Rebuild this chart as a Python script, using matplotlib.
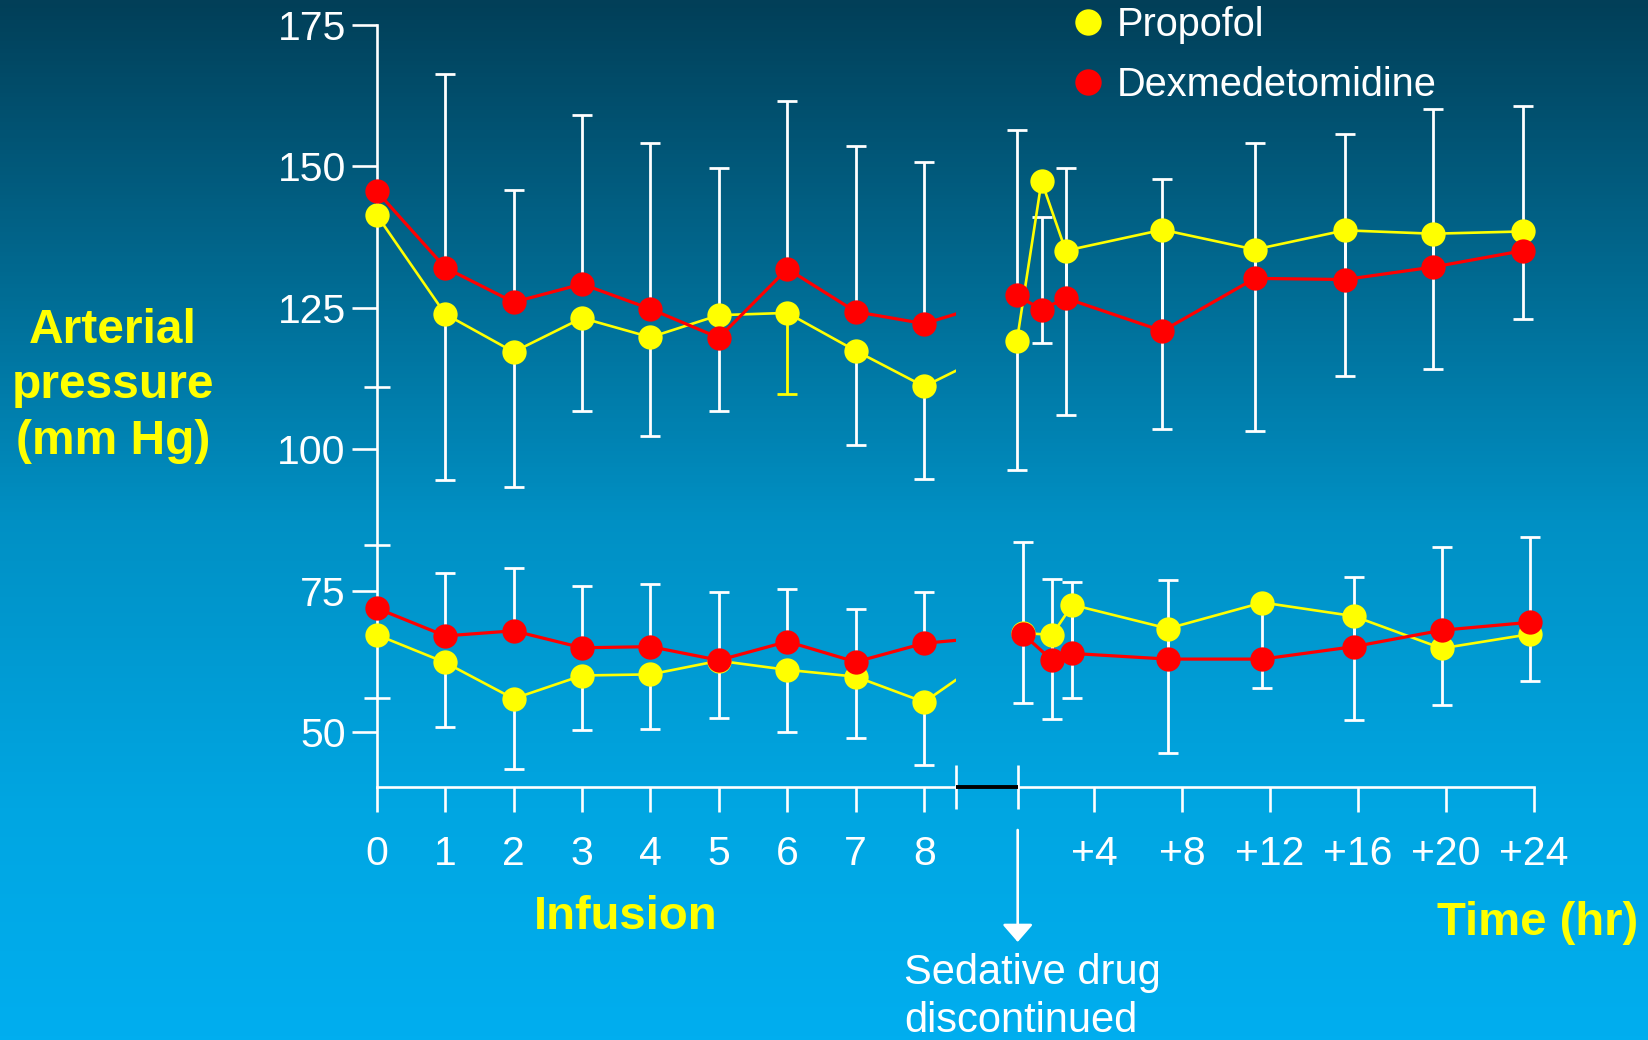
import matplotlib.pyplot as plt
import numpy as np
from matplotlib.colors import LinearSegmentedColormap
from matplotlib.lines import Line2D

plt.rcParams['font.family'] = ['Liberation Sans', 'DejaVu Sans']

YELLOW = '#ffff00'
RED = '#ff0000'
WHITE = '#ffffff'

# infusion period, hours 0-8
infusion_hours = [0, 1, 2, 3, 4, 5, 6, 7, 8]
infusion_labels = ['0', '1', '2', '3', '4', '5', '6', '7', '8']

# after the sedative was stopped (positions read against the +hr axis)
post_ticks = [4, 8, 12, 16, 20, 24]
post_labels = ['+4', '+8', '+12', '+16', '+20', '+24']
post_hours_sys = [0.48, 1.6, 2.7, 7.1, 11.3, 15.4, 19.4, 23.5]
post_hours_dia = [0.76, 2.08, 3.0, 7.35, 11.65, 15.8, 19.8, 23.8]

# systolic (upper group), mm Hg
prop_sys_inf = [141.4, 123.9, 117.2, 123.2, 119.8, 123.7, 124.1, 117.4, 111.1]
prop_sys_inf_sd = [0, 29.4, 23.9, 16.4, 17.4, 17.0, 14.3, 16.7, 16.3]
dex_sys_inf = [145.6, 132.1, 126.0, 129.2, 124.8, 119.7, 131.9, 124.3, 122.2]
dex_sys_inf_sd = [0, 34.3, 19.9, 29.8, 29.3, 30.0, 29.6, 29.3, 28.5]

prop_sys_post = [119.2, 147.4, 135.1, 138.8, 135.3, 138.7, 138.1, 138.5]
prop_sys_post_sd = [22.9, 0, 29.0, 35.2, 32.0, 25.7, 23.9, 15.4]
dex_sys_post = [127.2, 124.7, 126.7, 120.9, 130.2, 130.0, 132.2, 135.1]
dex_sys_post_sd = [29.2, 16.3, 23.0, 26.8, 24.0, 25.7, 28.0, 25.6]
dex_sys_post_sd_low = [0, 5.9, 0, 0, 0, 0, 0, 0]

# diastolic (lower group), mm Hg
prop_dia_inf = [67.2, 62.3, 55.9, 60.0, 60.2, 62.6, 61.0, 59.8, 55.3]
prop_dia_inf_sd = [0, 11.4, 12.4, 9.6, 9.7, 10.2, 10.9, 10.9, 11.1]
dex_dia_inf = [71.9, 67.0, 67.9, 64.9, 65.1, 62.7, 66.0, 62.4, 65.7]
dex_dia_inf_sd = [0, 11.2, 11.1, 10.9, 11.0, 12.0, 9.3, 9.3, 9.1]

prop_dia_post = [67.5, 67.2, 72.5, 68.3, 72.9, 70.5, 64.8, 67.3]
prop_dia_post_sd = [12.3, 14.9, 16.4, 22.0, 15.1, 18.4, 10.0, 8.3]
dex_dia_post = [67.3, 62.7, 63.9, 62.9, 62.9, 65.1, 68.0, 69.4]
dex_dia_post_sd = [16.3, 14.4, 12.7, 14.0, 0, 12.3, 14.8, 15.0]

y_ticks = [50, 75, 100, 125, 150, 175]
y_minor = [56, 83, 111]

no_err_9 = [0] * 9
no_err_8 = [0] * 8
prop_sys_bar_colours = [WHITE] * 6 + [YELLOW] + [WHITE] * 2

LW_PROP = 1.9
LW_DEX = 2.3


def draw_series(ax, hours, values, err_lo, err_hi, colour, lw, z, bar_colours=None):
    for i, (x, y, lo, hi) in enumerate(zip(hours, values, err_lo, err_hi)):
        if lo == 0 and hi == 0:
            continue
        c = bar_colours[i] if bar_colours else WHITE
        ax.errorbar(x, y, yerr=[[lo], [hi]], fmt='none', ecolor=c, elinewidth=2.0,
                    capsize=7, capthick=2.0, zorder=2, clip_on=False)
    ax.plot(hours, values, color=colour, lw=lw, marker='o', ms=17.5, mew=0,
            zorder=z, clip_on=False)


fig = plt.figure(figsize=(16.49, 10.40), dpi=100)

# slide background
bg = fig.add_axes([0, 0, 1, 1], zorder=-10)
slide = LinearSegmentedColormap.from_list(
    'slide', [(0, '#023f58'), (0.5, '#0090c4'), (0.78, '#00a6e2'), (1, '#00aeef')])
bg.imshow(np.linspace(0, 1, 256).reshape(-1, 1), cmap=slide, aspect='auto',
          extent=(0, 1, 0, 1))
bg.set_axis_off()

ax_l = fig.add_axes([0.21395, 0.2436, 0.3660, 0.7487])
ax_r = fig.add_axes([0.61716, 0.2436, 0.3211, 0.7487])

for ax in (ax_l, ax_r):
    ax.set_facecolor('none')
    ax.set_ylim(40.35, 178)
    ax.spines['top'].set_visible(False)
    ax.spines['right'].set_visible(False)
    for s in ('left', 'bottom'):
        ax.spines[s].set_color(WHITE)
        ax.spines[s].set_linewidth(1.9)
    ax.tick_params(which='both', colors=WHITE, labelsize=29.5, width=1.9, length=18)
    ax.tick_params(axis='x', pad=16.5)
    ax.tick_params(axis='x', which='minor', direction='inout', length=31)

ax_l.set_xlim(-0.35, 8.47)
ax_l.spines['left'].set_position(('data', 0))
ax_l.spines['left'].set_bounds(40.35, 175)
ax_l.spines['bottom'].set_bounds(0, 8.47)
ax_l.set_xticks(infusion_hours, infusion_labels)
ax_l.set_xticks([8.47], minor=True)
ax_l.set_yticks(y_ticks)
ax_l.set_yticks(y_minor, minor=True)
ax_l.tick_params(axis='y', pad=4.3)
ax_l.tick_params(axis='y', which='minor', direction='inout', length=19)

ax_r.set_xlim(0.515, 24.6)
ax_r.spines['left'].set_visible(False)
ax_r.spines['bottom'].set_bounds(0.515, 24)
ax_r.set_xticks(post_ticks, post_labels)
ax_r.set_xticks([0.515], minor=True)
ax_r.tick_params(axis='y', which='both', left=False, labelleft=False)

# infusion
draw_series(ax_l, infusion_hours, prop_sys_inf, prop_sys_inf_sd, no_err_9, YELLOW, LW_PROP, 3,
            prop_sys_bar_colours)
draw_series(ax_l, infusion_hours, dex_sys_inf, no_err_9, dex_sys_inf_sd, RED, LW_DEX, 4)
draw_series(ax_l, infusion_hours, prop_dia_inf, prop_dia_inf_sd, no_err_9, YELLOW, LW_PROP, 3)
draw_series(ax_l, infusion_hours, dex_dia_inf, no_err_9, dex_dia_inf_sd, RED, LW_DEX, 4)

# after discontinuation
draw_series(ax_r, post_hours_sys, prop_sys_post, prop_sys_post_sd, no_err_8, YELLOW, LW_PROP, 3)
draw_series(ax_r, post_hours_sys, dex_sys_post, dex_sys_post_sd_low, dex_sys_post_sd, RED, LW_DEX, 4)
draw_series(ax_r, post_hours_dia, prop_dia_post, prop_dia_post_sd, no_err_8, YELLOW, LW_PROP, 3)
draw_series(ax_r, post_hours_dia, dex_dia_post, no_err_8, dex_dia_post_sd, RED, LW_DEX, 4)

# line stubs heading across the break, clipped at the end of the infusion axis
to_left = ax_l.transData.inverted()
for inf_vals, post_hours, post_vals, colour, lw in [
        (prop_sys_inf, post_hours_sys, prop_sys_post, YELLOW, LW_PROP),
        (dex_sys_inf, post_hours_sys, dex_sys_post, RED, LW_DEX),
        (prop_dia_inf, post_hours_dia, prop_dia_post, YELLOW, LW_PROP),
        (dex_dia_inf, post_hours_dia, dex_dia_post, RED, LW_DEX)]:
    xb, yb = to_left.transform(ax_r.transData.transform((post_hours[0], post_vals[0])))
    ax_l.plot([infusion_hours[-1], xb], [inf_vals[-1], yb], color=colour, lw=lw, zorder=3)

# black bar across the axis break
p_l, p_r = ax_l.get_position(), ax_r.get_position()
fig.add_artist(Line2D([p_l.x1, p_r.x0], [p_l.y0, p_l.y0], transform=fig.transFigure,
                      color='black', lw=2.8, solid_capstyle='butt'))

# discontinuation arrow
ax_r.annotate('', xy=(0, 98), xytext=(0, 210),
              xycoords=('axes fraction', 'figure pixels'),
              textcoords=('axes fraction', 'figure pixels'),
              arrowprops=dict(arrowstyle='-|>,head_length=1.08,head_width=0.94',
                              mutation_scale=10, color=WHITE, lw=1.9,
                              shrinkA=0, shrinkB=0))
fig.text(904 / 1649, 1 - 953 / 1040, 'Sedative drug\ndiscontinued', color=WHITE,
         fontsize=30, ha='left', va='top', linespacing=1.27)

# yellow titles
fig.text(113 / 1649, 1 - 386 / 1040, 'Arterial\npressure\n(mm Hg)', color=YELLOW,
         fontsize=34.5, fontweight='bold', ha='center', va='center', linespacing=1.3)
fig.text(626 / 1649, 1 - 917 / 1040, 'Infusion', color=YELLOW, fontsize=34,
         fontweight='bold', ha='center', va='center')
fig.text(1638.5 / 1649, 1 - 923 / 1040, 'Time (hr)', color=YELLOW, fontsize=34,
         fontweight='bold', ha='right', va='center')

handles = [Line2D([], [], ls='none', marker='o', ms=19, mew=0, color=YELLOW),
           Line2D([], [], ls='none', marker='o', ms=19, mew=0, color=RED)]
fig.legend(handles, ['Propofol', 'Dexmedetomidine'], loc='upper left',
           bbox_to_anchor=(1068 / 1649, 1 - 6 / 1040), frameon=False, fontsize=28.6,
           labelcolor=WHITE, handlelength=1.0, handletextpad=0.23, borderpad=0,
           borderaxespad=0, labelspacing=0.55)

fig.savefig('out.png', dpi=100)
